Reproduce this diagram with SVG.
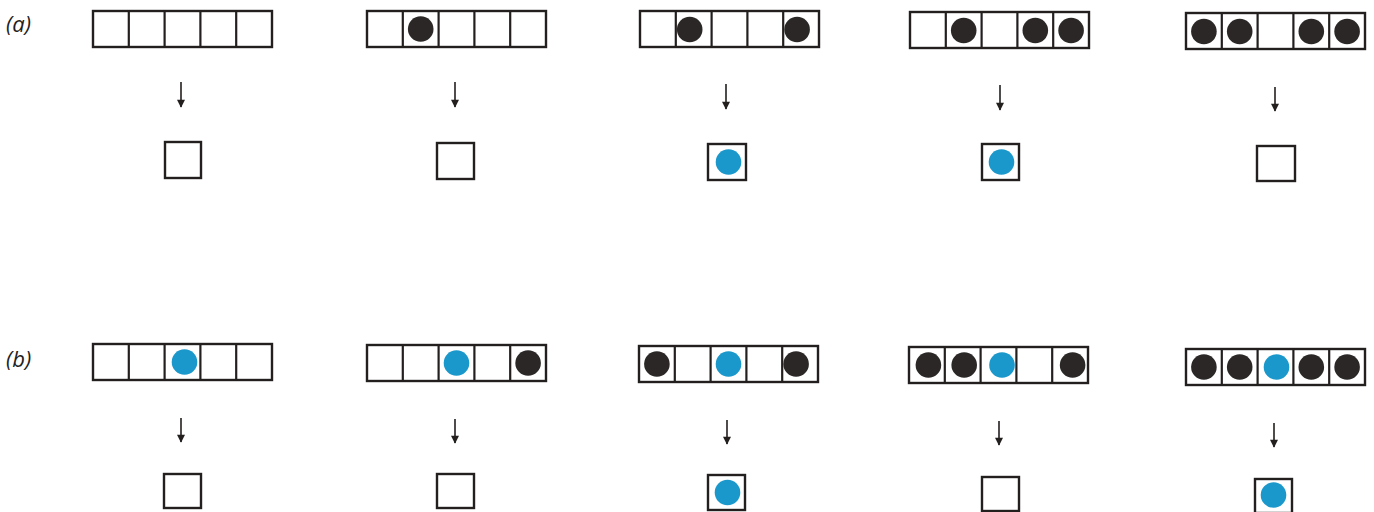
<svg xmlns="http://www.w3.org/2000/svg" width="1374" height="512" viewBox="0 0 1374 512">
<defs>
<style>
.frame{fill:#fff;stroke:#231f1f;stroke-width:2.4}
.div{stroke:#231f1f;stroke-width:2.2}
.blk{fill:#2b2727}
.blu{fill:#1a98cb}
.arr{stroke:#231f1f;stroke-width:1.6;fill:none;marker-end:url(#ah)}
.lbl{font-family:"Open Sans","Liberation Sans",sans-serif;font-style:italic;font-size:22px;fill:#231f1f}
</style>
<marker id="ah" viewBox="0 0 10 10" refX="9" refY="5" markerWidth="5.5" markerHeight="5" orient="auto" markerUnits="strokeWidth">
<path d="M0,0 L10,5 L0,10 Z" fill="#231f1f"/>
</marker>
<g id="cells">
<rect class="frame" x="0" y="0" width="179" height="36"/>
<line class="div" x1="35.8" y1="0" x2="35.8" y2="36"/>
<line class="div" x1="71.6" y1="0" x2="71.6" y2="36"/>
<line class="div" x1="107.4" y1="0" x2="107.4" y2="36"/>
<line class="div" x1="143.2" y1="0" x2="143.2" y2="36"/>
</g>
</defs>
<rect width="1374" height="512" fill="#fff"/>
<text class="lbl" x="6" y="32">(a)</text>
<text class="lbl" x="6" y="367">(b)</text>

<g id="a1">
<use href="#cells" transform="translate(93,11)"/>
<rect class="frame" x="165" y="142" width="36" height="36"/>
</g>
<g id="a2">
<use href="#cells" transform="translate(367,11)"/>
<circle class="blk" cx="420.7" cy="29" r="12.8"/>
<rect class="frame" x="437" y="143" width="37" height="36"/>
</g>
<g id="a3">
<use href="#cells" transform="translate(640,11)"/>
<circle class="blk" cx="689.7" cy="29.5" r="12.8"/>
<circle class="blk" cx="797.1" cy="29.5" r="12.8"/>
<rect class="frame" x="708" y="144" width="38" height="36"/>
<circle class="blu" cx="728.5" cy="162" r="12.8"/>
</g>
<g id="a4">
<use href="#cells" transform="translate(910,12)"/>
<circle class="blk" cx="963.7" cy="30.5" r="12.8"/>
<circle class="blk" cx="1035.3" cy="30.5" r="12.8"/>
<circle class="blk" cx="1071.1" cy="30.5" r="12.8"/>
<rect class="frame" x="982" y="144" width="37" height="36"/>
<circle class="blu" cx="1001.5" cy="162" r="12.8"/>
</g>
<g id="a5">
<use href="#cells" transform="translate(1186,13)"/>
<circle class="blk" cx="1203.9" cy="31.5" r="12.8"/>
<circle class="blk" cx="1239.7" cy="31.5" r="12.8"/>
<circle class="blk" cx="1311.3" cy="31.5" r="12.8"/>
<circle class="blk" cx="1347.1" cy="31.5" r="12.8"/>
<rect class="frame" x="1257" y="146" width="38" height="35"/>
</g>

<g id="b1">
<use href="#cells" transform="translate(93,344)"/>
<circle class="blu" cx="184.5" cy="362" r="12.8"/>
<rect class="frame" x="164" y="474" width="37" height="34"/>
</g>
<g id="b2">
<use href="#cells" transform="translate(367,345)"/>
<circle class="blu" cx="456.5" cy="363" r="12.8"/>
<circle class="blk" cx="528.1" cy="363" r="12.8"/>
<rect class="frame" x="437" y="474" width="37" height="34"/>
</g>
<g id="b3">
<use href="#cells" transform="translate(639,346)"/>
<circle class="blk" cx="656.9" cy="364" r="12.8"/>
<circle class="blu" cx="728.5" cy="364" r="12.8"/>
<circle class="blk" cx="796.1" cy="364" r="12.8"/>
<rect class="frame" x="708" y="475" width="37" height="35"/>
<circle class="blu" cx="727.5" cy="492.5" r="12.8"/>
</g>
<g id="b4">
<use href="#cells" transform="translate(909,347)"/>
<circle class="blk" cx="928.4" cy="365" r="12.8"/>
<circle class="blk" cx="964.2" cy="365" r="12.8"/>
<circle class="blu" cx="1002" cy="365" r="12.8"/>
<circle class="blk" cx="1072.6" cy="365" r="12.8"/>
<rect class="frame" x="982" y="477" width="37" height="34"/>
</g>
<g id="b5">
<use href="#cells" transform="translate(1186,349)"/>
<circle class="blk" cx="1203.9" cy="367" r="12.8"/>
<circle class="blk" cx="1239.7" cy="367" r="12.8"/>
<circle class="blu" cx="1276.5" cy="367" r="12.8"/>
<circle class="blk" cx="1311.3" cy="367" r="12.8"/>
<circle class="blk" cx="1347.1" cy="367" r="12.8"/>
<rect class="frame" x="1255" y="479" width="37" height="34"/>
<circle class="blu" cx="1273.5" cy="495" r="12.8"/>
</g>

<g id="connectors">
<line class="arr" x1="181" y1="82" x2="181" y2="107"/>
<line class="arr" x1="455" y1="82" x2="455" y2="107"/>
<line class="arr" x1="726" y1="84" x2="726" y2="109"/>
<line class="arr" x1="1000" y1="85" x2="1000" y2="110"/>
<line class="arr" x1="1275" y1="87" x2="1275" y2="111"/>
<line class="arr" x1="181" y1="418" x2="181" y2="442"/>
<line class="arr" x1="455" y1="419" x2="455" y2="443"/>
<line class="arr" x1="727" y1="420" x2="727" y2="444"/>
<line class="arr" x1="999" y1="421" x2="999" y2="445"/>
<line class="arr" x1="1274" y1="423" x2="1274" y2="447"/>
</g>
</svg>
